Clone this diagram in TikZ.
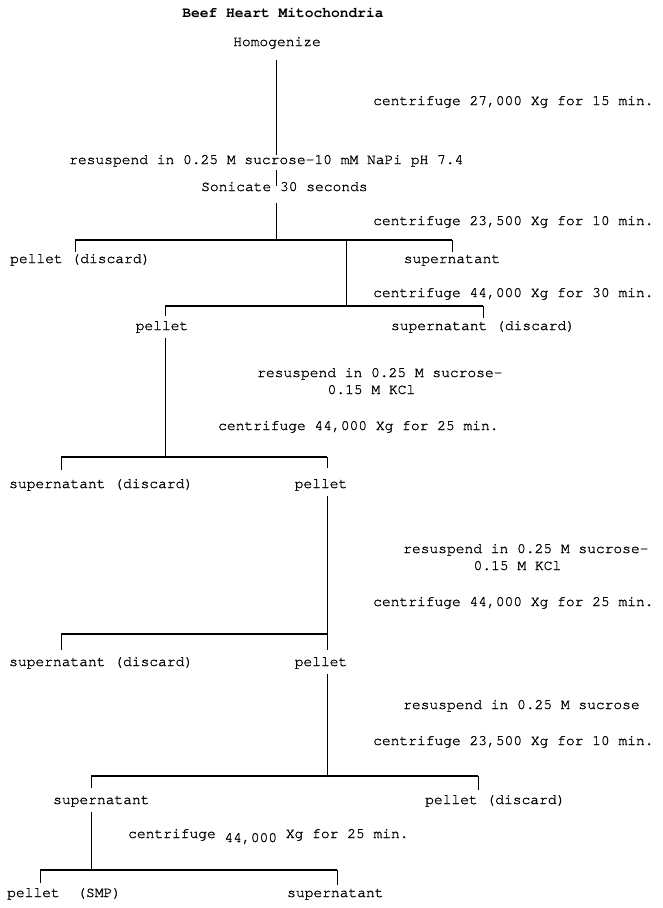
\documentclass[tikz,border=0pt]{standalone}
\usepackage{fontspec}
\setmonofont{texgyrecursor}[Extension=.otf, UprightFont=*-regular, BoldFont=*-bold, UprightFeatures={FakeBold=1.2}]
\begin{document}
\begin{tikzpicture}[x=1pt,y=-1pt,
  lbl/.style={font=\ttfamily\fontsize{14.6}{16}\selectfont, inner sep=0pt, anchor=base west},
  lblc/.style={lbl, anchor=base},
  bar/.style={line width=1.1pt},
  stem/.style={line width=0.6pt}]
\useasboundingbox (0,0) rectangle (662,908);
\fill[white] (0,0) rectangle (662,908);

% texts
\node[lblc, font=\ttfamily\bfseries\fontsize{14.6}{16}\selectfont] (beef) at (283,17) {Beef Heart Mitochondria};
\node[lblc] (homog) at (277,46) {Homogenize};
\node[lbl] (c1) at (373,105) {centrifuge 27,000 Xg for 15 min.};
\node[lbl] (resus1) at (69,164) {resuspend in 0.25 M sucrose-10 mM NaPi pH 7.4};
\node[lbl] (son) at (201,191) {Sonicate 30 seconds};
\node[lbl] (c2) at (373,225) {centrifuge 23,500 Xg for 10 min.};

\node[lbl] (pd1) at (10,263) {pellet (discard)};
\node[lblc] (sup1) at (452,263) {supernatant};
\node[lbl] (c3) at (373,297) {centrifuge 44,000 Xg for 30 min.};

\node[lblc] (pel2) at (162,330) {pellet};
\node[lblc] (sd2) at (483,330) {supernatant (discard)};
\node[lbl] (r2a) at (257,377) {resuspend in 0.25 M sucrose-};
\node[lbl] (r2b) at (327.4,394) {0.15 M KCl};
\node[lbl] (c4) at (218,430) {centrifuge 44,000 Xg for 25 min.};

\node[lbl] (sd3) at (9,488) {supernatant (discard)};
\node[lblc] (pel3) at (321,488) {pellet};
\node[lbl] (r3a) at (403,553) {resuspend in 0.25 M sucrose-};
\node[lbl] (r3b) at (473.4,570) {0.15 M KCl};
\node[lbl] (c5) at (373,606) {centrifuge 44,000 Xg for 25 min.};

\node[lbl] (sd4) at (9,666) {supernatant (discard)};
\node[lblc] (pel4) at (321,666) {pellet};
\node[lbl] (r4) at (403,709) {resuspend in 0.25 M sucrose};
\node[lbl] (c6) at (373,745) {centrifuge 23,500 Xg for 10 min.};

\node[lbl] (sup5) at (53,804) {supernatant};
\node[lbl] (pd5) at (425,804) {pellet (discard)};
\node[lbl] (c7) at (128,838) {centrifuge \raisebox{-4pt}{44,000} Xg for 25 min.};

\node[lbl] (psmp) at (7,897) {pellet\ \ (SMP)};
\node[lbl] (sup6) at (287,897) {supernatant};

% trunk
\coordinate (t0) at (276,60);
\coordinate (t1) at (276,155);
\coordinate (t2) at (276,170);
\coordinate (t3) at (276,186);
\coordinate (t4) at (276,203);
\coordinate (b1c) at (276,240);
\draw[stem] (t0) -- (t1);
\draw[stem] (t2) -- (t3);
\draw[stem] (t4) -- (b1c);

% bar 1
\coordinate (b1l) at (75,240);
\coordinate (b1r) at (452,240);
\coordinate (b1lt) at (75,252);
\coordinate (b1rt) at (452,252);
\coordinate (b1s) at (346,240);
\coordinate (b2c) at (346,306);
\draw[bar] (b1l) -- (b1r);
\draw[stem] (b1l) -- (b1lt);
\draw[stem] (b1r) -- (b1rt);
\draw[stem] (b1s) -- (b2c);

% bar 2
\coordinate (b2l) at (165,306);
\coordinate (b2r) at (483,306);
\coordinate (b2lt) at (165,316);
\coordinate (b2rt) at (483,318);
\draw[bar] (b2l) -- (b2r);
\draw[stem] (b2l) -- (b2lt);
\draw[stem] (b2r) -- (b2rt);
\coordinate (s2a) at (165,338);
\coordinate (b3c) at (165,457);
\draw[stem] (s2a) -- (b3c);

% bar 3
\coordinate (b3l) at (61,457);
\coordinate (b3r) at (327,457);
\coordinate (b3lt) at (61,470);
\coordinate (b3rt) at (327,468);
\draw[bar] (b3l) -- (b3r);
\draw[stem] (b3l) -- (b3lt);
\draw[stem] (b3r) -- (b3rt);
\coordinate (s3a) at (327,496);
\coordinate (b4c) at (327,634);
\draw[stem] (s3a) -- (b4c);

% bar 4
\coordinate (b4l) at (61,634);
\coordinate (b4lt) at (61,650);
\coordinate (b4rt) at (327,650);
\draw[bar] (b4l) -- (b4c);
\draw[stem] (b4l) -- (b4lt);
\draw[stem] (b4c) -- (b4rt);
\coordinate (s4a) at (327,674);
\coordinate (b5c) at (327,776);
\draw[stem] (s4a) -- (b5c);

% bar 5
\coordinate (b5l) at (91,776);
\coordinate (b5r) at (478,776);
\coordinate (b5lt) at (91,788);
\coordinate (b5rt) at (478,790);
\coordinate (s5a) at (91,812);
\coordinate (b6c) at (91,870);
\draw[bar] (b5l) -- (b5r);
\draw[stem] (b5r) -- (b5rt);
\draw[stem] (b5l) -- (b5lt);
\draw[stem] (s5a) -- (b6c);

% bar 6
\coordinate (b6l) at (40,870);
\coordinate (b6r) at (337,870);
\coordinate (b6lt) at (40,883);
\coordinate (b6rt) at (337,885);
\draw[bar] (b6l) -- (b6r);
\draw[stem] (b6l) -- (b6lt);
\draw[stem] (b6r) -- (b6rt);
\end{tikzpicture}
\end{document}
